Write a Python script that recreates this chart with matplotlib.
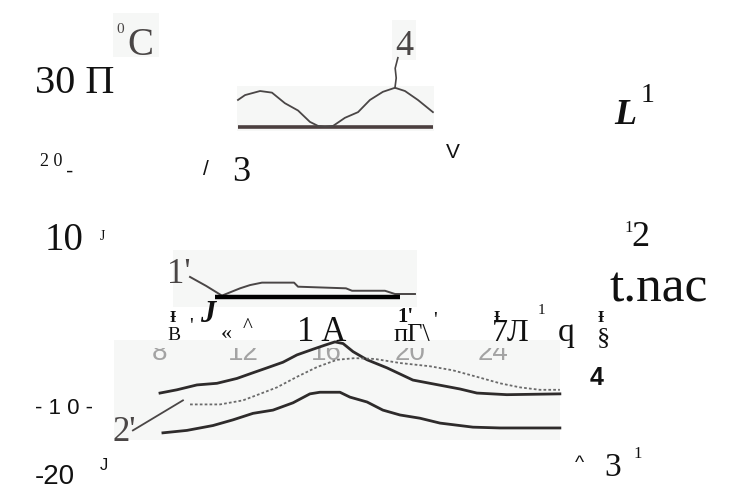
import matplotlib
matplotlib.use("Agg")
import matplotlib.pyplot as plt
from matplotlib.patches import Rectangle

# ---- data: air temperature (deg C) against local time (hours) ----
hours_4 = [11.76, 12.10, 12.82, 13.39, 14.01, 14.64, 15.21, 15.60, 15.93, 16.32,
           16.89, 17.52, 18.09, 18.71, 19.29, 19.77, 20.39, 20.87, 21.11]
temp_4 = [27.3, 27.9, 28.4, 28.2, 26.9, 26.0, 24.6, 24.1, 24.0, 24.1,
          25.1, 25.8, 27.3, 28.3, 28.8, 28.4, 27.3, 26.3, 25.8]
base_4 = 24.0
lead_4_h = [19.29, 19.35, 19.30, 19.43]
lead_4_t = [28.8, 30.0, 31.2, 32.5]

hours_1p = [9.46, 10.23, 10.99, 11.86, 12.34, 12.91, 14.45, 14.64, 16.94, 17.23,
            18.81, 19.29, 20.25]
temp_1p = [5.5, 4.4, 3.2, 4.1, 4.5, 4.8, 4.8, 4.3, 4.1, 3.8, 3.8, 3.4, 3.4]
zero_h = [10.66, 19.53]
zero_t = 3.0

hours_2 = [8.02, 8.83, 9.79, 10.75, 11.71, 12.48, 13.15, 13.92, 14.59, 15.36,
           15.93, 16.41, 16.80, 17.28, 17.95, 18.91, 20.15, 20.97, 22.41, 23.22,
           24.66, 27.20]
temp_2 = [-8.8, -8.4, -7.8, -7.6, -7.0, -6.3, -5.7, -5.0, -4.1, -3.4,
          -2.9, -2.5, -2.7, -3.7, -4.7, -5.7, -7.2, -7.6, -8.3, -8.8,
          -9.0, -8.9]

hours_3 = [9.46, 10.90, 12.00, 12.82, 13.63, 14.59, 15.55, 16.51, 17.37, 18.33,
           19.53, 20.97, 22.07, 23.22, 24.33, 25.29, 26.24, 27.20]
temp_3 = [-10.2, -10.2, -9.7, -8.9, -8.1, -6.8, -5.6, -4.7, -4.5, -4.6,
          -5.1, -5.5, -6.0, -6.8, -7.6, -8.1, -8.4, -8.4]

hours_1 = [8.16, 9.31, 10.56, 11.52, 12.48, 13.44, 14.40, 15.21, 15.69, 16.65,
           17.13, 17.95, 18.71, 19.53, 20.49, 21.45, 23.03, 24.33, 27.20]
temp_1 = [-13.7, -13.4, -12.8, -12.1, -11.3, -10.9, -10.0, -8.9, -8.7, -8.7,
          -9.3, -9.9, -10.9, -11.5, -11.9, -12.5, -13.0, -13.1, -13.1]
lead_2p_h = [6.72, 9.12]
lead_2p_t = [-13.4, -9.7]

tick_hours = [8, 12, 16, 20, 24]
tick_labels = ["8", "12", "16", "20", "24"]

W, H = 735, 490
fig = plt.figure(figsize=(W / 100, H / 100), dpi=100)
ax = fig.add_axes([0, 0, 1, 1])
ax.set_xlim(0.345, 35.60)
ax.set_ylim(-20.74, 39.61)
ax.axis("off")

SERIF = ["Liberation Serif", "DejaVu Serif"]
SANS = ["Liberation Sans", "DejaVu Sans"]
INK = "#111111"
SCAN = "#4a4646"


def fpos(x, y):
    return x / W, 1 - y / H


def txt(x, y, s, size, family=SERIF, color=INK, **kw):
    fig.text(*fpos(x, y), s, fontsize=size, family=family, color=color,
             ha="left", va="baseline", **kw)


# faint paper tone of the scanned fragments
for (x0, y0, x1, y1) in [(113, 13, 159, 57), (237, 86, 434, 131), (392, 20, 416, 60),
                         (173, 250, 417, 307), (114, 340, 560, 440)]:
    ax.add_patch(Rectangle(fpos(x0, y1), (x1 - x0) / W, (y1 - y0) / H,
                           transform=fig.transFigure, color="#f6f7f6",
                           zorder=0.2, lw=0))

# curve 4 with its base line
ax.plot([hours_4[0], hours_4[-1]], [base_4, base_4], color="#4b3f3f", lw=2.6,
        solid_capstyle="butt", zorder=2)
ax.plot(hours_4, temp_4, color=SCAN, lw=1.3, zorder=3)
ax.plot(lead_4_h, lead_4_t, color=SCAN, lw=1.2, zorder=3)

# curve 1' and the zero line
ax.plot(hours_1p, temp_1p, color=SCAN, lw=1.4, zorder=3)
ax.plot(zero_h, [zero_t, zero_t], color="black", lw=3.2, solid_capstyle="butt",
        zorder=4)

# night curves
ax.plot(hours_2, temp_2, color="#2e2b2b", lw=2.0, zorder=3)
ax.plot(hours_3, temp_3, color="#6a6a6a", lw=1.3, ls=(0, (1.5, 1.2)), zorder=3)
ax.plot(hours_1, temp_1, color="#2e2b2b", lw=2.0, zorder=3)
ax.plot(lead_2p_h, lead_2p_t, color=SCAN, lw=1.3, zorder=3)

# faded time labels, only their lower halves show below the text row
clip = Rectangle((0.345, -20.74), 35.3, (-3.25 + 20.74), transform=ax.transData)
for h, lab in zip(tick_hours, tick_labels):
    t = ax.text(h, -4.75, lab, fontsize=20, family=SANS, color="#a3a3a3",
                ha="center", va="baseline", clip_on=True, zorder=1)
    t.set_clip_path(clip)

# scanned labels
txt(116, 33, "0", 11, color=SCAN)
txt(127, 55, "C", 28, color=SCAN)
txt(395, 55, "4", 26, color=SCAN)
txt(167, 283, "1'", 25, color=SCAN)
txt(112, 441, "2'", 25, color=SCAN)

# recognised text layer
txt(35, 93, "30 \u041f", 29)
txt(40, 166, "2 0", 13)
txt(66, 178, "-", 16, family=SANS)
txt(203, 175, "/", 15, family=SANS)
txt(232, 181, "3", 26)
txt(446, 158, "V", 15, family=SANS)
txt(614, 124, "L", 26, weight="bold", style="italic")
txt(641, 102, "1", 20)
txt(45, 250, "10", 28)
txt(100, 240, "J", 10)
txt(624, 232, "1", 12)
txt(631, 246, "2", 26)
txt(610, 301, "t.nac", 37)

txt(170, 322, "\u0197", 12, weight="bold")
txt(167, 340, "B", 14)
txt(189, 332, "'", 15)
txt(200, 322, "J", 22, weight="bold", style="italic")
txt(221, 339, "\u00ab", 16)
txt(243, 332, "^", 15)
txt(297, 341, "1 A", 25)
txt(397, 322, "1'", 15, weight="bold")
txt(393, 341, "\u043f\u0413\\", 19)
txt(433, 326, "'", 15)
txt(493, 322, "\u0197", 12, weight="bold")
txt(492, 341, "7\u041b", 23)
txt(538, 314, "1", 11)
txt(558, 341, "q", 24)
txt(598, 322, "\u0197", 12, weight="bold")
txt(597, 344, "\u00a7", 19)
txt(590, 385, "4", 18, family=SANS, weight="bold")

txt(35, 414, "- 1 0 -", 16, family=SANS)
txt(35, 484, "-20", 20, family=SANS)
txt(100, 470, "J", 12, family=SANS)
txt(575, 468, "^", 14, family=SANS)
txt(604, 476, "3", 24)
txt(633, 458, "1", 12)

fig.savefig("out.png", dpi=100, facecolor="white")
